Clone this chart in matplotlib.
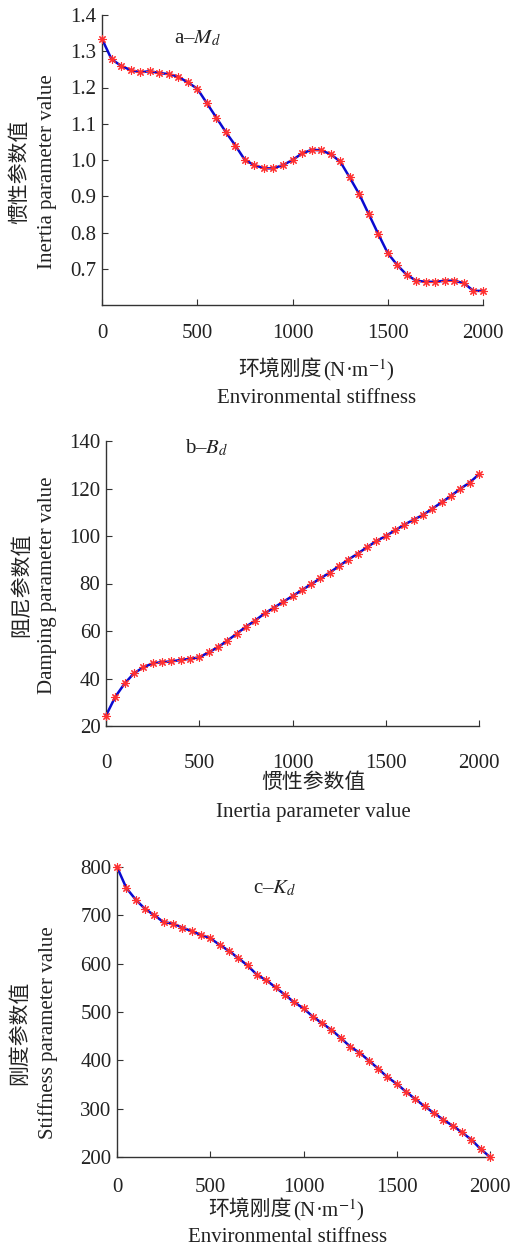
import matplotlib
matplotlib.use('Agg')
import matplotlib.pyplot as plt

# Environmental stiffness (x axis, every 50 N/m)
stiffness = list(range(0, 2001, 50))

# a - inertia parameter M_d
inertia = [1.334, 1.278, 1.260, 1.248, 1.242, 1.245, 1.240, 1.237, 1.230, 1.214,
           1.197, 1.157, 1.117, 1.077, 1.040, 1.000, 0.986, 0.977, 0.977, 0.986,
           1.000, 1.018, 1.028, 1.027, 1.016, 0.996, 0.952, 0.906, 0.851, 0.796,
           0.743, 0.710, 0.683, 0.667, 0.664, 0.664, 0.667, 0.667, 0.660, 0.639,
           0.639]

# b - damping parameter B_d
damping = [24.4, 32.3, 37.9, 42.2, 44.7, 46.4, 46.9, 47.2, 47.8, 48.3,
           48.9, 51.0, 53.2, 55.9, 58.8, 61.8, 64.4, 67.4, 69.8, 72.3,
           74.7, 77.2, 79.7, 82.2, 84.6, 87.4, 90.1, 92.6, 95.3, 97.9,
           100.0, 102.4, 104.8, 106.9, 108.9, 111.5, 114.2, 116.9, 119.9, 122.5,
           126.0]

# c - stiffness parameter K_d
stiff_param = [800.0, 756.6, 732.6, 713.3, 700.3, 685.8, 683.1, 674.8, 667.2, 659.7,
               652.7, 639.0, 626.6, 611.5, 596.3, 577.1, 566.0, 550.9, 535.8, 520.0,
               507.6, 490.4, 476.7, 462.9, 446.3, 428.4, 416.0, 399.5, 383.0, 365.2,
               351.4, 334.9, 319.7, 304.6, 290.8, 277.1, 264.7, 250.9, 235.8, 216.5,
               200.0]

W, H = 516, 1249
FONTS = ['Liberation Serif', 'Noto Sans CJK SC']
plt.rcParams['font.family'] = FONTS
plt.rcParams['mathtext.fontset'] = 'stix'
TXT = '#222222'
FS = 15

fig = plt.figure(figsize=(W / 100, H / 100), dpi=100)


def px_axes(left, top, right, bottom):
    return fig.add_axes([left / W, 1 - bottom / H, (right - left) / W, (bottom - top) / H])


def ftext(x, y, s, ha='center', va='center', **kw):
    fig.text(x / W, 1 - y / H, s, ha=ha, va=va, fontsize=FS,
             color=TXT, family=FONTS, **kw)


def unit_label(xsplit, y):
    # CJK part and the unit drawn separately so the CJK font is kept
    ftext(xsplit, y + 6, '环境刚度', ha='right', va='baseline')
    ftext(xsplit + 1, y + 6, '(N\u00b7m$^{-1}$)', ha='left', va='baseline')


def panel(box, y, ylim, yticks, yfmt, title, title_xy, xpad):
    ax = px_axes(*box)
    ax.plot(stiffness, y, color='#0a0ad0', lw=1.8, zorder=2, clip_on=False)
    ax.plot(stiffness, y, ls='none', marker=(8, 2, 0), ms=6, mec='#ff3030',
            mew=0.8, zorder=3, clip_on=False)
    ax.set_xlim(0, 2000)
    ax.set_ylim(*ylim)
    ax.set_xticks([0, 500, 1000, 1500, 2000])
    ax.set_yticks(yticks)
    ax.set_yticklabels([yfmt % v for v in yticks])
    ax.spines['top'].set_visible(False)
    ax.spines['right'].set_visible(False)
    for s in ['left', 'bottom']:
        ax.spines[s].set_color('#333333')
        ax.spines[s].set_linewidth(1.0)
    ax.tick_params(axis='both', direction='in', length=4, width=0.8,
                   colors='#333333', labelsize=FS, labelcolor=TXT)
    ax.tick_params(axis='x', pad=xpad)
    ax.tick_params(axis='y', pad=4)
    ax.text(title_xy[0], title_xy[1], title, transform=ax.transData,
            fontsize=FS, color=TXT, ha='left', va='center')
    return ax


# a
panel((102, 15, 483, 305), inertia, (0.6, 1.4), [0.7, 0.8, 0.9, 1.0, 1.1, 1.2, 1.3, 1.4],
      '%.1f', 'a\u2013$M_{d}$', (380, 1.335), 14)
ftext(20, 172, '惯性参数值', rotation=90)
ftext(48, 172, 'Inertia parameter value', rotation=90)
unit_label(322, 370)
ftext(317, 398, 'Environmental stiffness')

# b
panel((106, 441, 479, 726), damping, (20, 140), [20, 40, 60, 80, 100, 120, 140],
      '%d', 'b\u2013$B_{d}$', (425, 137), 20)
ftext(22, 585, '阻尼参数值', rotation=90)
ftext(48, 585, 'Damping parameter value', rotation=90)
ftext(313, 783, '惯性参数值')
ftext(313, 813, 'Inertia parameter value')

# c
panel((117, 867, 490, 1157), stiff_param, (200, 800), [200, 300, 400, 500, 600, 700, 800],
      '%d', 'c\u2013$K_{d}$', (730, 755), 15)
ftext(20, 1033, '刚度参数值', rotation=90)
ftext(48, 1033, 'Stiffness parameter value', rotation=90)
unit_label(292, 1210)
ftext(288, 1238, 'Environmental stiffness')

fig.savefig('out.png', dpi=100)
